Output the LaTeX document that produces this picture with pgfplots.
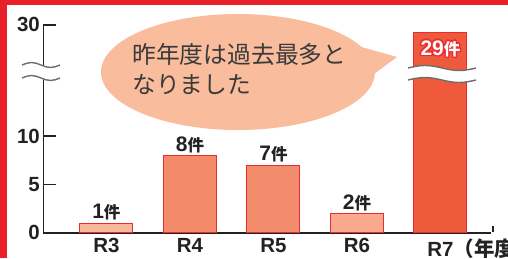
\documentclass[border=0pt]{standalone}
\usepackage{pgfplots}
\pgfplotsset{compat=1.18}
\usepackage{fontspec}
\setmainfont{Liberation Sans}
\newfontfamily\cjk{Noto Sans CJK JP}
\definecolor{framered}{HTML}{E8202A}
\definecolor{bubble}{HTML}{F9BC9C}
\definecolor{cA}{HTML}{F9B89A}
\definecolor{cB}{HTML}{F38A69}
\definecolor{cC}{HTML}{F38C6C}
\definecolor{cD}{HTML}{F9A98D}
\definecolor{cE}{HTML}{EF5A3D}
\definecolor{edge}{HTML}{EC2B2F}
\definecolor{axc}{HTML}{222222}
\definecolor{txt}{HTML}{3A3A3A}
\definecolor{wavec}{HTML}{6D6D6D}
% break mark: white band between two waves
\newcommand\breakmark[4]{% x0, yupper, ylower, width
  \pgfmathsetmacro\q{#4/4}
  \fill[white] (#1,#2) sin ++(\q,2.5) cos ++(\q,-2.5) sin ++(\q,-2.5) cos ++(\q,2.5)
     -- (#1+#4,#3) sin ++(-\q,-2.5) cos ++(-\q,2.5) sin ++(-\q,2.5) cos ++(-\q,-2.5) -- cycle;
  \draw[wavec, line width=1.4pt] (#1,#2) sin ++(\q,2.5) cos ++(\q,-2.5) sin ++(\q,-2.5) cos ++(\q,2.5);
  \draw[wavec, line width=1.4pt] (#1,#3) sin ++(\q,2.5) cos ++(\q,-2.5) sin ++(\q,-2.5) cos ++(\q,2.5);
}
\newcommand\ken{{\cjk\bfseries\fontsize{16.5}{16.5}\selectfont 件}}
\begin{document}
\begin{tikzpicture}[x=1pt,y=1pt]
\useasboundingbox (0,0) rectangle (508,258);
\fill[framered] (0,0) rectangle (7,258);
\fill[framered] (0,253) rectangle (508,258);
% speech bubble
\fill[bubble] (397,201) -- (358,212) -- (366,178) -- cycle;
\fill[bubble] (238,186) ellipse [x radius=137, y radius=58];
\node[anchor=west, inner sep=0pt, text=txt, font=\cjk\fontsize{23.8}{28}\selectfont] at (132,203) {昨年度は過去最多と};
\node[anchor=west, inner sep=0pt, text=txt, font=\cjk\fontsize{23.8}{28}\selectfont] at (132,173) {なりました};
\begin{axis}[
  at={(52,26)}, anchor=south west,
  scale only axis, width=448pt, height=208pt,
  xmin=-0.754, xmax=4.61, ymin=0, ymax=30,
  y coord trafo/.code={\pgfmathparse{#1>14 ? 21.5-(30-#1)*0.8 : #1}},
  axis lines=left,
  axis line style={-, line width=1.4pt, color=axc},
  ytick={0,5,10,30}, yticklabels={0,5,10,30},
  ytick align=inside,
  major tick length=13pt,
  y tick style={line width=1.4pt, color=axc},
  xtick={0,1,2,3,4},
  xticklabels={R3,R4,R5,R6,{R7\rlap{\cjk\bfseries （年度）}}},
  x tick style={draw=none},
  tick label style={font=\bfseries\fontsize{20.5}{22}\selectfont, text=axc},
  x tick label style={yshift=4.5pt},
  /pgf/number format/assume math mode=true,
  clip=false,
  point meta=rawy,
  every node near coord/.append style={anchor=south, yshift=-1pt, text=axc, font=\bfseries\fontsize{21}{22}\selectfont},
]
\addplot[ybar, bar shift=0pt, bar width=53pt, fill=cA, draw=edge, line width=1pt,
  nodes near coords={\pgfmathprintnumber{\pgfplotspointmeta}\ken}] coordinates {(0,1)};
\addplot[ybar, bar shift=0pt, bar width=53pt, fill=cB, draw=edge, line width=1pt,
  nodes near coords={\pgfmathprintnumber{\pgfplotspointmeta}\ken}] coordinates {(1,8)};
\addplot[ybar, bar shift=0pt, bar width=53pt, fill=cC, draw=edge, line width=1pt,
  nodes near coords={\pgfmathprintnumber{\pgfplotspointmeta}\ken}] coordinates {(2,7)};
\addplot[ybar, bar shift=0pt, bar width=53pt, fill=cD, draw=edge, line width=1pt,
  nodes near coords={\pgfmathprintnumber{\pgfplotspointmeta}\ken}] coordinates {(3,2)};
\addplot[ybar, bar shift=0pt, bar width=53pt, fill=cE, draw=edge, line width=1pt] coordinates {(4,29)};
\pgfplotsinvokeforeach{0,30,...,330}{
  \node[anchor=north, yshift=-8pt, text=edge, font=\bfseries\fontsize{21}{22}\selectfont, inner sep=0pt]
    at ([shift={(#1:1.5pt)}] axis cs:4,29) {29\ken};
}
\node[anchor=north, yshift=-8pt, text=white, font=\bfseries\fontsize{21}{22}\selectfont, inner sep=0pt]
    at (axis cs:4,29) {29\ken};
\end{axis}
% end tick of x axis
\draw[axc, line width=1.4pt] (493,26) -- (493,32);
% axis break and bar break
\breakmark{22}{193}{180}{38}
\breakmark{408}{190}{178}{68}
\end{tikzpicture}
\end{document}
